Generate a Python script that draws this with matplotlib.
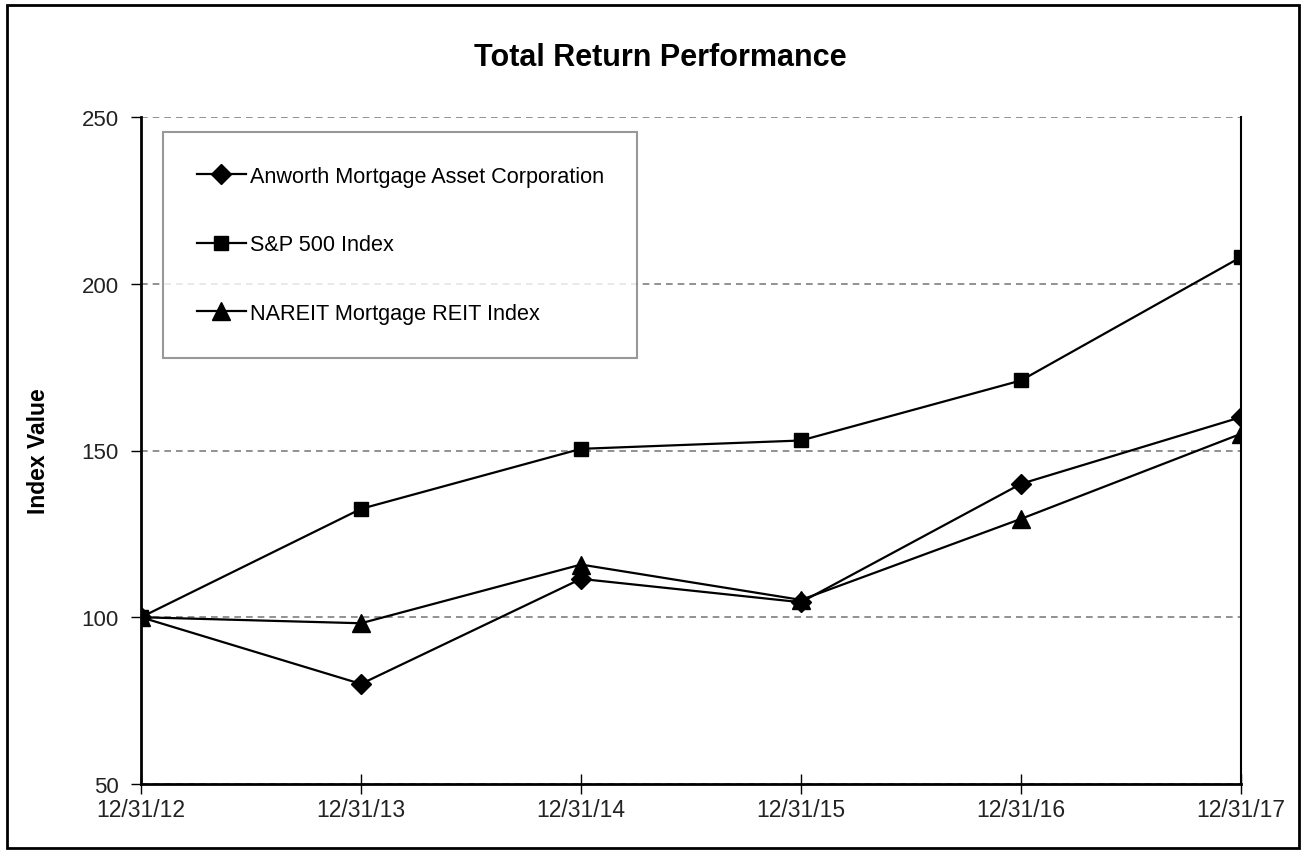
import matplotlib.pyplot as plt
from matplotlib.patches import Rectangle

plt.rcParams['font.family'] = ['Liberation Sans', 'DejaVu Sans']

dates = ["12/31/12", "12/31/13", "12/31/14", "12/31/15", "12/31/16", "12/31/17"]
anworth = [100, 80, 111.5, 104.5, 140, 160]
sp500 = [100, 132.5, 150.5, 153, 171, 208]
nareit = [100, 98.2, 115.8, 105.2, 129.5, 155]

fig = plt.figure(figsize=(13.02, 8.54), dpi=100)
ax = fig.add_axes([141 / 1302, 1 - 785 / 854, 1100 / 1302, 667 / 854])

x = list(range(len(dates)))
ax.plot(x, anworth, color='black', lw=1.6, marker='D', ms=10, label='Anworth Mortgage Asset Corporation')
ax.plot(x, sp500, color='black', lw=1.6, marker='s', ms=10.5, label='S&P 500 Index')
ax.plot(x, nareit, color='black', lw=1.6, marker='^', ms=12.5, label='NAREIT Mortgage REIT Index')

ax.set_xlim(0, len(dates) - 1)
ax.set_ylim(50, 250)
ax.set_xticks(x)
ax.set_xticklabels(dates)
ax.set_yticks([50, 100, 150, 200, 250])
ax.tick_params(axis='x', direction='inout', length=14, width=1, labelsize=16.5, pad=3, colors='black')
ax.tick_params(axis='y', direction='out', length=7, width=1, labelsize=16, pad=9)
for lab in ax.get_xticklabels() + ax.get_yticklabels():
    lab.set_color('#222222')

ax.yaxis.grid(True, linestyle=(0, (4, 3)), color='#7f7f7f', lw=1.2)
ax.spines['top'].set_visible(False)
for s in ['left', 'bottom']:
    ax.spines[s].set_linewidth(2)
ax.spines['right'].set_linewidth(1.5)
ax.set_axisbelow(True)

ax.set_ylabel('Index Value', fontsize=16.5, fontweight='bold')
ax.yaxis.set_label_coords((50 - 141) / 1100, 0.5)
fig.text(660 / 1302, 1 - 58 / 854, 'Total Return Performance', fontsize=22, fontweight='bold',
         ha='center', va='center')

leg = ax.legend(loc='upper left', bbox_to_anchor=(22 / 1100, 1 - 15 / 667), fontsize=15.6,
                frameon=True, fancybox=False, edgecolor='#7f7f7f', labelspacing=2.2,
                borderpad=1.55, handlelength=2.3, handletextpad=0.15, borderaxespad=0)
leg.get_frame().set_linewidth(1.5)

fig.patches.append(Rectangle((7 / 1302, 5 / 854), 1292 / 1302, 843 / 854, transform=fig.transFigure,
                             fill=False, edgecolor='black', lw=2))

fig.savefig('out.png', dpi=100)
